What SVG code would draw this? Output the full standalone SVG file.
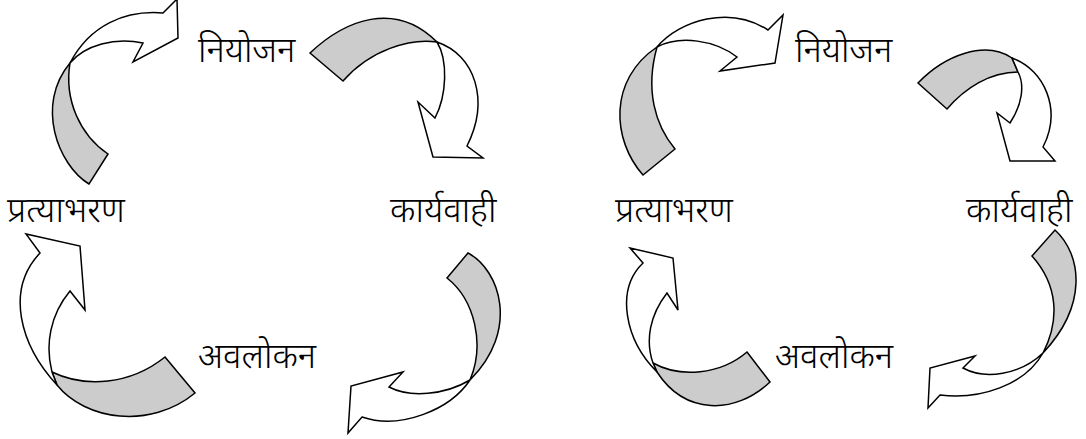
<svg xmlns="http://www.w3.org/2000/svg" width="1086" height="439" viewBox="0 0 1086 439">
<style>
.lbl{font-family:"Noto Sans Devanagari","Lohit Devanagari","Noto Sans",sans-serif;font-size:35px;font-weight:300;fill:#000}
.g{fill:#cccccc;stroke:#000;stroke-width:1.5;stroke-linejoin:miter}
.w{fill:#ffffff;stroke:#000;stroke-width:1.5;stroke-linejoin:miter}
</style>
<rect width="1086" height="439" fill="#fff"/>
<g id="connectors">
  <!-- left cycle -->
  <g id="arrow-l-tl">
    <path class="g" d="M108,154 L89,184 C58,165 35,105 70,63 C64,100 80,135 108,154 Z"/>
    <path class="w" d="M70,63 C90,25 125,10 163,13 L177,-1 L178,38 L133,62 L143,43 C115,37 85,45 70,63 Z"/>
  </g>
  <g id="arrow-l-tr">
    <path class="g" d="M310,53 C345,20 395,0 437,42 C410,38 370,50 343,81 Z"/>
    <path class="w" d="M437,42 C475,55 490,100 467,146 L483,158 L433,157 L418,102 L435,118 C447,95 448,60 437,42 Z"/>
  </g>
  <g id="arrow-l-br">
    <path class="g" d="M447,278 L468,253 C500,270 520,330 470,380 C485,345 475,300 447,278 Z"/>
    <path class="w" d="M470,380 C450,410 400,430 362,417 L348,433 L351,386 L403,372 L389,387 C410,398 445,395 470,380 Z"/>
  </g>
  <g id="arrow-l-bl">
    <path class="g" d="M165,357 L195,393 C150,430 85,420 57,385 L52,372 C85,388 130,385 165,357 Z"/>
    <path class="w" d="M57,385 C20,345 5,290 40,253 L26,234 L80,246 L85,310 L70,291 C50,315 45,345 52,372 Z"/>
  </g>
  <!-- right cycle -->
  <g id="arrow-r-tl">
    <path class="g" d="M675,149 L643,175 C612,140 608,80 657,47 C645,90 655,125 675,149 Z"/>
    <path class="w" d="M657,47 C680,20 730,5 768,30 L783,15 L775,63 L720,71 L737,57 C715,40 680,35 657,47 Z"/>
  </g>
  <g id="arrow-r-tr">
    <path class="g" d="M918,83 C945,55 985,40 1012,58 L1018,72 C990,72 965,88 947,109 Z"/>
    <path class="w" d="M1012,58 C1045,70 1062,110 1043,147 L1055,161 L1010,161 L997,113 L1010,123 C1022,105 1025,85 1018,72 Z"/>
  </g>
  <g id="arrow-r-br">
    <path class="g" d="M1032,256 L1055,230 C1082,255 1088,305 1043,353 C1060,320 1058,285 1032,256 Z"/>
    <path class="w" d="M1043,353 C1025,385 980,400 940,395 L928,408 L930,368 L975,356 L963,368 C985,380 1020,375 1043,353 Z"/>
  </g>
  <g id="arrow-r-bl">
    <path class="g" d="M747,352 L770,382 C735,415 685,415 657,372 L653,363 C680,378 720,375 747,352 Z"/>
    <path class="w" d="M657,372 C625,340 615,290 643,263 L630,248 L673,258 L678,310 L667,293 C650,315 645,340 653,363 Z"/>
  </g>
</g>
<g id="node-l-niyojan"><text class="lbl" x="198" y="62">नियोजन</text></g>
<g id="node-l-karyavahi"><text class="lbl" x="390" y="222">कार्यवाही</text></g>
<g id="node-l-avalokan"><text class="lbl" x="198" y="368">अवलोकन</text></g>
<g id="node-l-pratyabharan"><text class="lbl" x="7" y="222">प्रत्याभरण</text></g>
<g id="node-r-niyojan"><text class="lbl" x="795" y="62">नियोजन</text></g>
<g id="node-r-karyavahi"><text class="lbl" x="966" y="222">कार्यवाही</text></g>
<g id="node-r-avalokan"><text class="lbl" x="775" y="368">अवलोकन</text></g>
<g id="node-r-pratyabharan"><text class="lbl" x="615" y="222">प्रत्याभरण</text></g>
</svg>
